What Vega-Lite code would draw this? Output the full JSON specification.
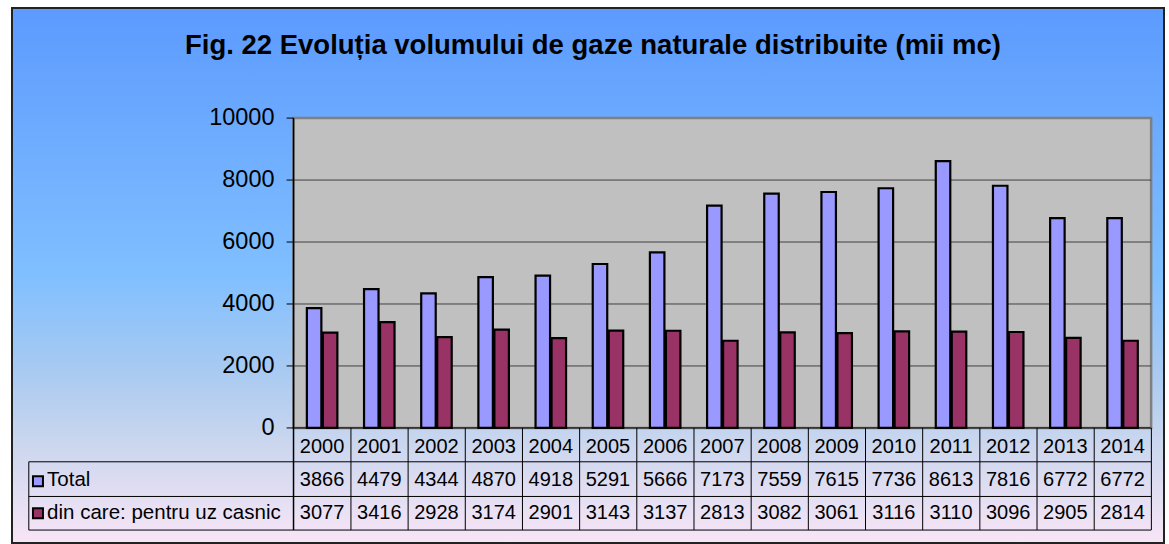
{
  "$schema": "https://vega.github.io/schema/vega-lite/v6.json",
  "width": 1169,
  "height": 544,
  "autosize": {"type": "fit", "contains": "padding"},
  "padding": {"left": 7, "top": 7, "right": 0, "bottom": 0},
  "background": "#ffffff",
  "config": {
    "view": {"stroke": null},
    "text": {"font": "Liberation Sans", "color": "#000000"}
  },
  "datasets": {
    "bars": [
      {"year": 2000, "series": "Total", "value": 3866},
      {"year": 2001, "series": "Total", "value": 4479},
      {"year": 2002, "series": "Total", "value": 4344},
      {"year": 2003, "series": "Total", "value": 4870},
      {"year": 2004, "series": "Total", "value": 4918},
      {"year": 2005, "series": "Total", "value": 5291},
      {"year": 2006, "series": "Total", "value": 5666},
      {"year": 2007, "series": "Total", "value": 7173},
      {"year": 2008, "series": "Total", "value": 7559},
      {"year": 2009, "series": "Total", "value": 7615},
      {"year": 2010, "series": "Total", "value": 7736},
      {"year": 2011, "series": "Total", "value": 8613},
      {"year": 2012, "series": "Total", "value": 7816},
      {"year": 2013, "series": "Total", "value": 6772},
      {"year": 2014, "series": "Total", "value": 6772},
      {"year": 2000, "series": "din care: pentru uz casnic", "value": 3077},
      {"year": 2001, "series": "din care: pentru uz casnic", "value": 3416},
      {"year": 2002, "series": "din care: pentru uz casnic", "value": 2928},
      {"year": 2003, "series": "din care: pentru uz casnic", "value": 3174},
      {"year": 2004, "series": "din care: pentru uz casnic", "value": 2901},
      {"year": 2005, "series": "din care: pentru uz casnic", "value": 3143},
      {"year": 2006, "series": "din care: pentru uz casnic", "value": 3137},
      {"year": 2007, "series": "din care: pentru uz casnic", "value": 2813},
      {"year": 2008, "series": "din care: pentru uz casnic", "value": 3082},
      {"year": 2009, "series": "din care: pentru uz casnic", "value": 3061},
      {"year": 2010, "series": "din care: pentru uz casnic", "value": 3116},
      {"year": 2011, "series": "din care: pentru uz casnic", "value": 3110},
      {"year": 2012, "series": "din care: pentru uz casnic", "value": 3096},
      {"year": 2013, "series": "din care: pentru uz casnic", "value": 2905},
      {"year": 2014, "series": "din care: pentru uz casnic", "value": 2814}
    ],
    "grid": [{"v": 2000}, {"v": 4000}, {"v": 6000}, {"v": 8000}],
    "ticks": [{"v": 0}, {"v": 2000}, {"v": 4000}, {"v": 6000}, {"v": 8000}, {"v": 10000}],
    "one": [{"title": "Fig. 22 Evoluția volumului de gaze naturale distribuite (mii mc)"}]
  },
  "data": {"name": "bars"},
  "layer": [
    {
      "data": {"name": "one"},
      "mark": {
        "type": "rect",
        "fill": {"gradient": "linear", "x1": 0, "y1": 0, "x2": 0, "y2": 1,
          "stops": [
            {"offset": 0, "color": "#5c9afe"},
            {"offset": 0.5, "color": "#80bfff"},
            {"offset": 0.68, "color": "#a9caf1"},
            {"offset": 0.82, "color": "#ccd7ee"},
            {"offset": 0.92, "color": "#e5dff3"},
            {"offset": 1, "color": "#f8e5f6"}
          ]},
        "stroke": "#222222", "strokeWidth": 2
      },
      "encoding": {
        "x": {"datum": 1994.576, "type": "quantitative", "scale": {"domain": [1994.576, 2014.725], "nice": false, "zero": false}, "axis": null},
        "x2": {"datum": 2014.725},
        "y": {"datum": -3714, "type": "quantitative", "scale": {"domain": [-3714, 13553], "nice": false, "zero": false}, "axis": null},
        "y2": {"datum": 13553}
      }
    },
    {
      "data": {"name": "one"},
      "mark": {"type": "rect", "fill": "#c0c0c0", "stroke": "#808080", "strokeWidth": 2.5},
      "encoding": {
        "x": {"datum": 1999.5, "type": "quantitative", "axis": null},
        "x2": {"datum": 2014.5},
        "y": {"datum": 0, "type": "quantitative", "axis": null},
        "y2": {"datum": 10000}
      }
    },
    {
      "data": {"name": "grid"},
      "mark": {"type": "rule", "stroke": "#404040", "strokeWidth": 1},
      "encoding": {
        "x": {"datum": 1999.5, "type": "quantitative", "axis": null},
        "x2": {"datum": 2014.5},
        "y": {"field": "v", "type": "quantitative", "axis": null}
      }
    },
    {
      "data": {"name": "ticks"},
      "mark": {"type": "rule", "stroke": "#000000", "strokeWidth": 1},
      "encoding": {
        "x": {"datum": 1999.379, "type": "quantitative", "axis": null},
        "x2": {"datum": 1999.5},
        "y": {"field": "v", "type": "quantitative", "axis": null}
      }
    },
    {
      "data": {"name": "ticks"},
      "mark": {"type": "text", "fontSize": 23.5, "align": "right", "baseline": "middle", "dx": -19},
      "encoding": {
        "x": {"datum": 1999.5, "type": "quantitative", "axis": null},
        "y": {"field": "v", "type": "quantitative", "axis": null},
        "text": {"field": "v", "type": "nominal"}
      }
    },
    {
      "transform": [{"filter": "datum.series === 'Total'"}],
      "mark": {"type": "bar", "width": 14.5, "xOffset": -8, "fill": "#9999ff", "stroke": "#000000", "strokeWidth": 2.2},
      "encoding": {
        "x": {"field": "year", "type": "quantitative", "axis": null},
        "y": {"field": "value", "type": "quantitative", "axis": null},
        "y2": {"datum": 0}
      }
    },
    {
      "transform": [{"filter": "datum.series !== 'Total'"}],
      "mark": {"type": "bar", "width": 14.5, "xOffset": 8, "fill": "#993366", "stroke": "#000000", "strokeWidth": 2.2},
      "encoding": {
        "x": {"field": "year", "type": "quantitative", "axis": null},
        "y": {"field": "value", "type": "quantitative", "axis": null},
        "y2": {"datum": 0}
      }
    },
    {
      "data": {"name": "one"},
      "mark": {"type": "rule", "stroke": "#000000", "strokeWidth": 1},
      "encoding": {
        "x": {"datum": 1999.5, "type": "quantitative", "axis": null},
        "y": {"datum": 0, "type": "quantitative", "axis": null},
        "x2": {"datum": 2014.5}
      }
    },
    {
      "data": {"name": "one"},
      "mark": {"type": "rule", "stroke": "#000000", "strokeWidth": 1},
      "encoding": {
        "x": {"datum": 1994.87, "type": "quantitative", "axis": null},
        "y": {"datum": -1093, "type": "quantitative", "axis": null},
        "x2": {"datum": 2014.5}
      }
    },
    {
      "data": {"name": "one"},
      "mark": {"type": "rule", "stroke": "#000000", "strokeWidth": 1},
      "encoding": {
        "x": {"datum": 1994.87, "type": "quantitative", "axis": null},
        "y": {"datum": -2212, "type": "quantitative", "axis": null},
        "x2": {"datum": 2014.5}
      }
    },
    {
      "data": {"name": "one"},
      "mark": {"type": "rule", "stroke": "#000000", "strokeWidth": 1},
      "encoding": {
        "x": {"datum": 1994.87, "type": "quantitative", "axis": null},
        "y": {"datum": -3296, "type": "quantitative", "axis": null},
        "x2": {"datum": 2014.5}
      }
    },
    {
      "data": {"name": "one"},
      "mark": {"type": "rule", "stroke": "#000000", "strokeWidth": 1},
      "encoding": {
        "x": {"datum": 1994.87, "type": "quantitative", "axis": null},
        "y": {"datum": -1093, "type": "quantitative", "axis": null},
        "y2": {"datum": -3296}
      }
    },
    {
      "data": {"name": "one"},
      "mark": {"type": "rule", "stroke": "#000000", "strokeWidth": 1.5},
      "encoding": {
        "x": {"datum": 1999.5, "type": "quantitative", "axis": null},
        "y": {"datum": 10000, "type": "quantitative", "axis": null},
        "y2": {"datum": -3296}
      }
    },
    {
      "transform": [{"filter": "datum.series === 'Total'"}],
      "mark": {"type": "rule", "stroke": "#000000", "strokeWidth": 1, "xOffset": 28.83},
      "encoding": {
        "x": {"field": "year", "type": "quantitative", "axis": null},
        "y": {"datum": 0, "type": "quantitative", "axis": null},
        "y2": {"datum": -3296}
      }
    },
    {
      "transform": [{"filter": "datum.series === 'Total'"}],
      "mark": {"type": "text", "fontSize": 20, "align": "center", "baseline": "middle"},
      "encoding": {
        "x": {"field": "year", "type": "quantitative", "axis": null},
        "y": {"datum": -610, "type": "quantitative", "axis": null},
        "text": {"field": "year", "type": "nominal"}
      }
    },
    {
      "transform": [{"filter": "datum.series === 'Total'"}],
      "mark": {"type": "text", "fontSize": 20, "align": "center", "baseline": "middle"},
      "encoding": {
        "x": {"field": "year", "type": "quantitative", "axis": null},
        "y": {"datum": -1688, "type": "quantitative", "axis": null},
        "text": {"field": "value", "type": "nominal"}
      }
    },
    {
      "transform": [{"filter": "datum.series !== 'Total'"}],
      "mark": {"type": "text", "fontSize": 20, "align": "center", "baseline": "middle"},
      "encoding": {
        "x": {"field": "year", "type": "quantitative", "axis": null},
        "y": {"datum": -2737, "type": "quantitative", "axis": null},
        "text": {"field": "value", "type": "nominal"}
      }
    },
    {
      "transform": [{"filter": "datum.series === 'Total' && datum.year === 2000"}],
      "mark": {"type": "square", "size": 100, "filled": true, "fill": "#9999ff", "stroke": "#000000", "strokeWidth": 2, "opacity": 1},
      "encoding": {
        "x": {"datum": 1995.03, "type": "quantitative", "axis": null},
        "y": {"datum": -1720, "type": "quantitative", "axis": null}
      }
    },
    {
      "transform": [{"filter": "datum.series !== 'Total' && datum.year === 2000"}],
      "mark": {"type": "square", "size": 100, "filled": true, "fill": "#993366", "stroke": "#000000", "strokeWidth": 2, "opacity": 1},
      "encoding": {
        "x": {"datum": 1995.03, "type": "quantitative", "axis": null},
        "y": {"datum": -2750, "type": "quantitative", "axis": null}
      }
    },
    {
      "transform": [{"filter": "datum.series === 'Total' && datum.year === 2000"}],
      "mark": {"type": "text", "fontSize": 20.5, "align": "left", "baseline": "middle"},
      "encoding": {
        "x": {"datum": 1995.19, "type": "quantitative", "axis": null},
        "y": {"datum": -1688, "type": "quantitative", "axis": null},
        "text": {"field": "series", "type": "nominal"}
      }
    },
    {
      "transform": [{"filter": "datum.series !== 'Total' && datum.year === 2000"}],
      "mark": {"type": "text", "fontSize": 20.5, "align": "left", "baseline": "middle"},
      "encoding": {
        "x": {"datum": 1995.19, "type": "quantitative", "axis": null},
        "y": {"datum": -2737, "type": "quantitative", "axis": null},
        "text": {"field": "series", "type": "nominal"}
      }
    },
    {
      "data": {"name": "one"},
      "mark": {"type": "text", "fontSize": 27.5, "fontWeight": "bold", "align": "center", "baseline": "middle"},
      "encoding": {
        "x": {"datum": 2004.737, "type": "quantitative", "axis": null},
        "y": {"datum": 12330, "type": "quantitative", "axis": null},
        "text": {"field": "title", "type": "nominal"}
      }
    }
  ]
}
